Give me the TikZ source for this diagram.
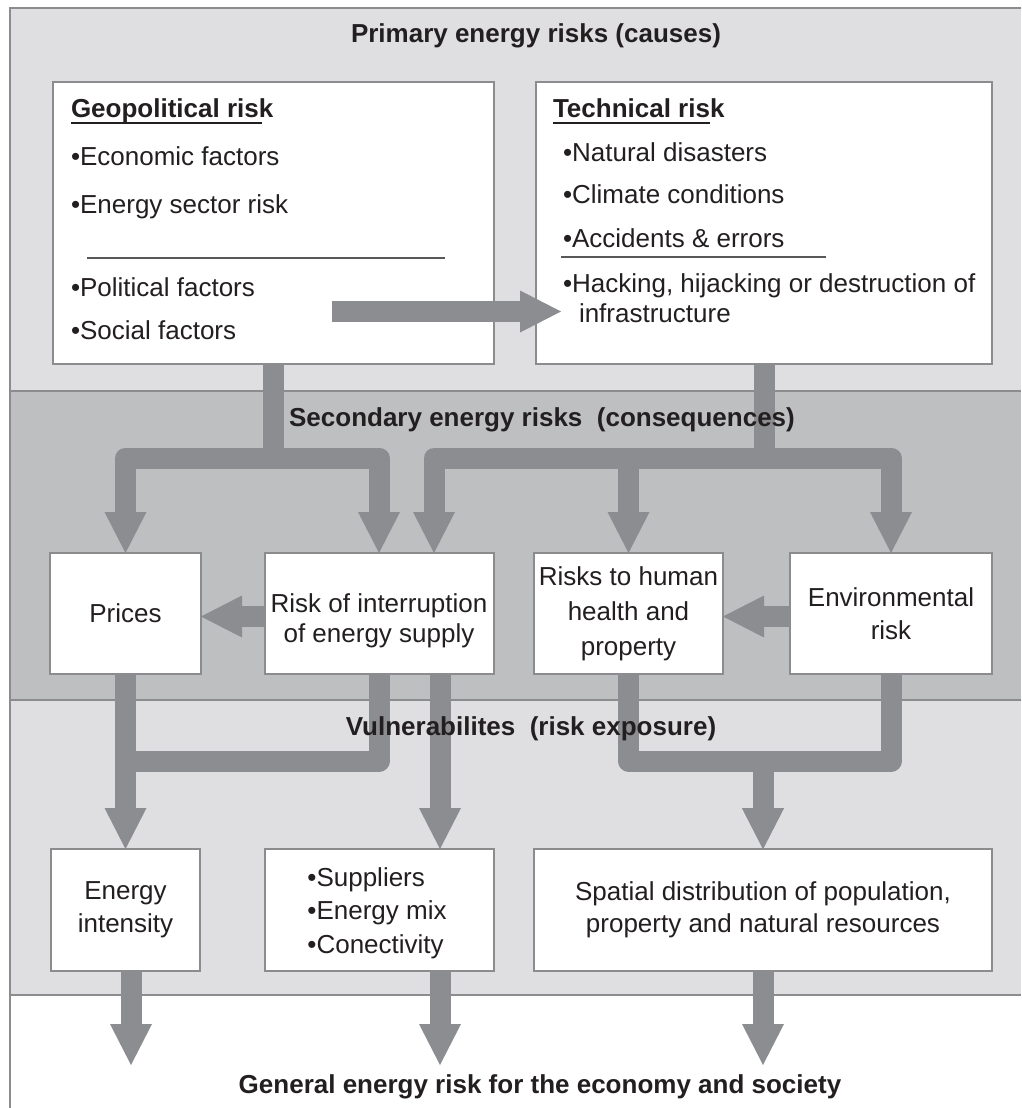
\documentclass[tikz,border=0pt]{standalone}
\usepackage{fontspec}
\setmainfont{Liberation Sans}
\usetikzlibrary{arrows.meta}
\definecolor{bandlight}{HTML}{DFDFE1}
\definecolor{banddark}{HTML}{BEBFC1}
\definecolor{arrowgray}{HTML}{8C8D90}
\definecolor{linegray}{HTML}{8C8C8E}
\definecolor{sepgray}{HTML}{58585A}
\definecolor{txtcol}{HTML}{231F20}
\tikzset{
  lbl/.style={font=\fontsize{26}{30}\selectfont, text=txtcol, inner sep=0pt, outer sep=0pt},
  ttl/.style={lbl, font=\fontsize{26}{30}\selectfont\bfseries},
  rbox/.style={draw=linegray, line width=2pt, fill=white, inner sep=0pt, outer sep=0pt,
    font=\fontsize{26}{30}\selectfont, text=txtcol, align=center},
  bandline/.style={draw=linegray, line width=2.5pt},
  sepline/.style={draw=sepgray, line width=2.5pt},
  ulline/.style={draw=txtcol, line width=2.5pt},
  fat/.style={draw=arrowgray, line width=21pt, line join=round},
  fatarrow/.style={fat, -{Triangle[length=41pt,width=42pt,line width=0pt]}}
}
\begin{document}
\begin{tikzpicture}[x=1pt,y=-1pt]
\useasboundingbox (0,0) rectangle (1021,1108);
% bands
\fill[bandlight] (10,8) rectangle (1021,391);
\fill[banddark] (10,391) rectangle (1021,700);
\fill[bandlight] (10,700) rectangle (1021,995);
\draw[bandline] (1021,8) -- (10,8) -- (10,1108);
\draw[bandline] (10,391) -- (1021,391);
\draw[bandline] (10,700) -- (1021,700);
\draw[bandline] (10,995) -- (1021,995);

% boxes
\node[rbox, minimum width=441pt, minimum height=282pt] (geo) at (273.5,223) {};
\node[rbox, minimum width=456pt, minimum height=282pt] (tech) at (764,223) {};
\node[rbox, minimum width=151pt, minimum height=121pt] (prices) at (125.5,613.5) {Prices};
\node[rbox, minimum width=229pt, minimum height=121pt] (interr) at (379.5,613.5) {};
\node[lbl, align=center] (interrtxt) at (379,620.5) {Risk of interruption\\of energy supply};
\node[rbox, minimum width=189pt, minimum height=121pt, font=\fontsize{26}{35}\selectfont] (human) at (628.5,613.5) {Risks to human\\health and\\property};
\node[rbox, minimum width=202pt, minimum height=121pt, font=\fontsize{26}{33}\selectfont] (env) at (891,613.5) {Environmental\\risk};
\node[rbox, minimum width=149pt, minimum height=122pt, font=\fontsize{26}{33}\selectfont] (eint) at (125.5,910) {Energy\\intensity};
\node[rbox, minimum width=229pt, minimum height=122pt] (supp) at (379.5,910) {};
\node[lbl, align=left, font=\fontsize{26}{33.5}\selectfont] (supptxt) at (377,913) {•Suppliers\\•Energy mix\\•Conectivity};
\node[rbox, minimum width=458pt, minimum height=122pt, font=\fontsize{26}{32}\selectfont] (spat) at (763,910) {Spatial distribution of population,\\property and natural resources};

% geopolitical texts
\node[ttl, anchor=base west] (geoh) at (71,117) {Geopolitical risk};
\draw[ulline] ([yshift=-6pt]geoh.base west) -- ++(191,0);
\node[lbl, anchor=base west] (g1) at (71,165) {•Economic factors};
\node[lbl, anchor=base west] (g2) at (71,213) {•Energy sector risk};
\draw[sepline] (87,258) -- (445,258);
\node[lbl, anchor=base west] (g3) at (71,296) {•Political factors};
\node[lbl, anchor=base west] (g4) at (71,339) {•Social factors};

% technical texts
\node[ttl, anchor=base west] (techh) at (553,117) {Technical risk};
\draw[ulline] ([yshift=-6pt]techh.base west) -- ++(157,0);
\node[lbl, anchor=base west] (t1) at (563,161) {•Natural disasters};
\node[lbl, anchor=base west] (t2) at (563,203) {•Climate conditions};
\node[lbl, anchor=base west] (t3) at (563,247) {•Accidents \& errors};
\draw[sepline, line width=2pt] (561,257) -- (826,257);
\node[lbl, anchor=base west] (t4) at (563,292) {•Hacking, hijacking or destruction of};
\node[lbl, anchor=base west] (t5) at (579,322) {infrastructure};

% primary -> secondary connectors
\draw[fatarrow] (geo.south) -- (geo.south |- 0,458) -| (prices.north);
\draw[fatarrow] (geo.south) -- (geo.south |- 0,458) -| (interr.north -| 379,0);
\draw[fatarrow] (tech.south) -- (tech.south |- 0,458) -| (interr.north -| 434,0);
\draw[fatarrow] (tech.south) -- (tech.south |- 0,458) -| (human.north);
\draw[fatarrow] (tech.south) -- (tech.south |- 0,458) -| (env.north);

% horizontal arrows
\coordinate (gstart) at (332,311.5);
\draw[fatarrow] (gstart) -- ([xshift=25pt]tech.west |- gstart);
\draw[fatarrow] (interr.west |- 0,616.5) -- (prices.east |- 0,616.5);
\draw[fatarrow] (env.west |- 0,616.5) -- (human.east |- 0,616.5);

% secondary -> vulnerabilities
\draw[fatarrow] (prices.south) -- (eint.north);
\draw[fat] (interr.south -| 379,0) -- (379,761) -- (125.5,761);
\draw[fatarrow] (interr.south -| 440,0) -- (supp.north -| 440,0);
\draw[fatarrow] (human.south) -- (human.south |- 0,761) -| (spat.north);
\draw[fatarrow] (env.south) -- (env.south |- 0,761) -| (spat.north);

% vulnerabilities -> general
\coordinate (o1) at (131,1065);
\coordinate (o2) at (440,1065);
\coordinate (o3) at (763,1065);
\draw[fatarrow] (eint.south -| o1) -- (o1);
\draw[fatarrow] (supp.south -| o2) -- (o2);
\draw[fatarrow] (spat.south -| o3) -- (o3);

% band titles
\node[ttl, anchor=base] (title1) at (536,43) {Primary energy risks (causes)};
\node[ttl, anchor=base] (title2) at (542,426) {Secondary energy risks\ \ (consequences)};
\node[ttl, anchor=base] (title3) at (531,735) {Vulnerabilites\ \ (risk exposure)};
\node[ttl, anchor=base] (title4) at (540,1093) {General energy risk for the economy and society};
\end{tikzpicture}
\end{document}
